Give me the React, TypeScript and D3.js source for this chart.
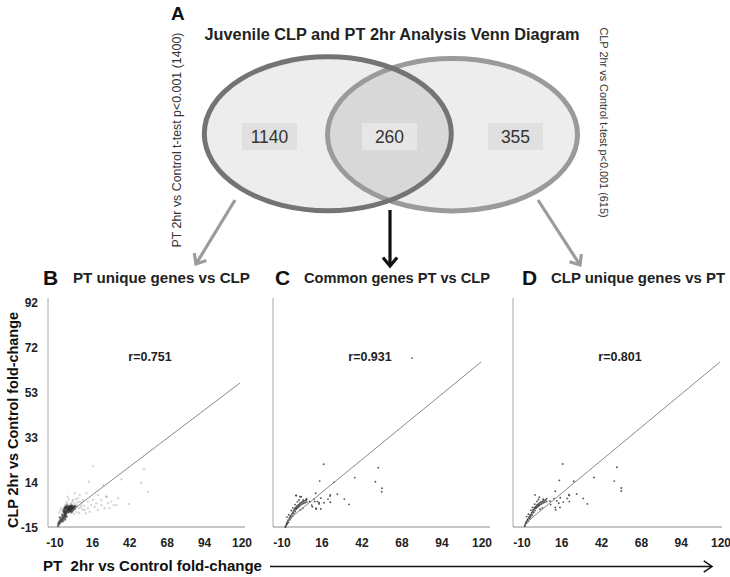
import React from "react";
import * as d3 from "d3";

const FONT = '"Liberation Sans", Arial, Helvetica, sans-serif';

// ---------- data ----------
const vennTitle = "Juvenile CLP and PT 2hr Analysis Venn Diagram";
const vennCounts = [1140, 260, 355];
const leftSetLabel = "PT 2hr vs Control t-test p<0.001 (1400)";
const rightSetLabel = "CLP 2hr vs Control t-test p<0.001 (615)";

const xTicks = [-10, 16, 42, 68, 94, 120];
const yTickLabels = ["-15", "14", "33", "53", "72", "92"];
const yDomain = [-5.5, 92];

const panelLetters = ["B", "C", "D"];
const panelTitles = ["PT unique genes vs CLP", "Common genes PT vs CLP", "CLP unique genes vs PT"];
const rLabels = ["r=0.751", "r=0.931", "r=0.801"];
const xAxisLabel = "PT  2hr vs Control fold-change";
const yAxisLabel = "CLP 2hr vs Control fold-change";

const fitB: [number, number][] = [[3.9, 2.7], [118.6, 56.9]];
const fitC: [number, number][] = [[-6.1, -2.5], [119.4, 66]];
const fitD: [number, number][] = [[-6.7, -3.3], [119.3, 66]];

// Panel B: faint spread of points
const pointsBSpread: [number, number][] = [
  [16.4, 20.9], [51.9, 19.5], [13.6, 14.1], [36.1, 15.2], [50, 13.7], [54.7, 9.8], [23.4, 12.7],
  [41.4, 4.5], [30.8, 4], [26, 7.6],
  [19.9, 8.4], [22.2, 6.2], [25.7, 7.6], [29.1, 5.5], [32.6, 4], [12.9, 5.5], [15.2, 4], [17.6, 3.3],
  [8.3, 4], [10.6, 1.9], [19.9, 1.9], [24.5, 2.6], [6, 7], [2.5, 6.2], [-1, 7.6], [11.8, 9.1],
  [28, 2.6], [33.8, 7], [7.2, 5.5], [4.8, 3.3], [14.1, 1.1], [16.4, 6.2], [18.7, 4.8], [9.5, 6.2],
  [7.2, 8.4], [3.7, 9.1], [1.3, 4.8], [22.2, 4], [12.9, 2.6], [26.8, 4.8],
  [-2.0, 5.2], [-0.4, 6.4], [0.8, 4.4], [-1.6, 4.6], [2.2, 5.6], [3.6, 4.6], [5.2, 3.8], [6.4, 2.6],
  [5.6, 5.2], [4.4, 6.6], [7.8, 3.2], [9.0, 2.2], [10.4, 3.6], [8.6, 5.0], [-3.0, 4.0],
  [5.0, 1.0], [6.8, 0.6], [3.2, 0.2], [11.4, 0.4], [-6.2, 1.8], [-5.4, 2.6], [-7.0, 0.8],
];

// Panel B: dense dark core near the origin
const pointsBCore: [number, number][] = [
  [-4.2, 1.2], [-3.8, 2.0], [-3.4, 1.5], [-3.0, 2.6], [-2.6, 1.0], [-2.2, 2.2], [-1.8, 3.0], [-1.4, 1.6],
  [-1.0, 2.6], [-0.6, 3.4], [-0.2, 1.9], [0.2, 2.8], [0.6, 3.6], [1.0, 2.2], [1.4, 3.1], [1.8, 2.5],
  [2.2, 3.4], [2.6, 2.0], [3.0, 2.9], [3.4, 3.6], [3.8, 2.4], [4.2, 3.2], [-3.6, 0.6], [-2.8, 0.4],
  [-2.0, 1.4], [-1.2, 0.8], [-0.4, 1.1], [0.4, 1.5], [1.2, 0.9], [2.0, 1.3], [-2.4, 3.2], [-1.6, 3.8],
  [-0.8, 2.0], [0.0, 2.4], [0.8, 1.8], [1.6, 3.8], [2.4, 2.7], [-3.2, 2.9], [-0.2, 3.0], [1.0, 3.2],
  [-7.6, -4.2], [-7.2, -3.4], [-6.8, -4.0], [-6.4, -2.6], [-6.0, -3.2], [-5.6, -1.8], [-5.2, -2.6],
  [-4.8, -1.2], [-4.4, -2.0], [-4.0, -0.6], [-3.6, -1.4], [-3.2, -0.2], [-2.8, -0.9], [-2.4, 0.1],
  [-7.8, -5.0], [-6.6, -1.4], [-5.0, -0.2], [-3.0, -2.2], [-4.6, -3.0], [-2.0, -1.0],
];

const pointsC: [number, number][] = [
  [74.5, 67.7], [17.1, 21.7], [52.6, 20.2], [14.5, 14.4], [23.8, 13.9], [37.3, 15.9], [50.7, 14.1],
  [55, 11.3], [54.8, 9.8], [21.4, 8.4], [26, 8.7], [30.5, 6.6], [33.6, 4.3], [21.4, 5.2], [11.9, 9.1],
  [15.2, 7], [-0.7, 8.1], [2.5, 7.6], [5.8, 6.5], [8, 5.5], [11.3, 5.5], [14.1, 5], [9.7, 3.3],
  [12.3, 2.3], [15.2, 2.3],
  [-0.9, 8.2], [1.7, 7.6], [3.8, 6.2], [6.1, 6.6], [8.2, 5.5], [10.8, 6.5], [13, 5.5], [14.1, 4.5],
  [9.3, 4], [12.1, 2.6], [17.3, 5], [19.9, 6.6], [21.2, 7.9],
  [-7.6, -5.1], [-7.2, -4.6], [-7.0, -3.8], [-6.6, -4.2], [-6.4, -3.2], [-6.0, -2.6], [-5.8, -3.5],
  [-5.4, -2.0], [-5.0, -1.4], [-4.8, -2.4], [-4.5, -0.8], [-4.2, -1.6], [-3.8, -0.4], [-3.5, 0.2],
  [-3.2, -0.9], [-2.9, 0.8], [-2.6, 1.5], [-2.3, 0.4], [-2.0, 1.9], [-1.7, 2.6], [-1.4, 1.2],
  [-1.1, 2.2], [-0.8, 3.1], [-0.5, 2.4], [-0.2, 3.6], [0.2, 2.9], [0.5, 4.0], [0.8, 3.3], [1.2, 4.4],
  [1.5, 3.7], [1.9, 4.9], [2.3, 4.1], [2.7, 5.2], [3.1, 4.5], [3.6, 5.5], [4.0, 4.8], [4.5, 5.8],
  [5.0, 5.0], [5.6, 6.0], [6.2, 5.3], [-6.8, -1.2], [-5.6, -0.2], [-4.0, 1.6], [-3.0, 2.8],
  [-1.5, 4.2], [0.0, 5.4], [1.0, 6.2], [2.0, 2.0], [3.5, 2.6], [-7.8, -5.6],
];

const pointsD: [number, number][] = [
  [16.6, 21.8], [52, 20.4], [14.4, 14.7], [23.8, 14.3], [37, 16], [50.3, 14.4], [54.9, 11.4],
  [54.9, 10.1], [20.5, 8.5], [25.7, 8.8], [30, 6.9], [32.7, 4.5], [20.9, 5.5], [11.8, 10],
  [-1.5, 8.4], [1.3, 7.4], [3.9, 6.5], [6.1, 6.8], [8.3, 5.8], [10.9, 6.8], [12.7, 5.8], [14, 4.8],
  [8.7, 4.2], [11.7, 3], [14.8, 3], [17, 5.3], [19.6, 6.9], [20.9, 8.2], [15.0, 7.2], [12.0, 2.0],
  [-8.0, -4.6], [-7.6, -4.0], [-7.3, -3.2], [-6.9, -3.7], [-6.6, -2.6], [-6.2, -2.1], [-5.9, -3.0],
  [-5.5, -1.5], [-5.1, -0.9], [-4.9, -1.9], [-4.6, -0.3], [-4.3, -1.1], [-3.9, 0.1], [-3.6, 0.7],
  [-3.3, -0.4], [-3.0, 1.2], [-2.7, 1.9], [-2.4, 0.8], [-2.1, 2.3], [-1.8, 3.0], [-1.5, 1.6],
  [-1.2, 2.6], [-0.9, 3.4], [-0.6, 2.8], [-0.3, 3.9], [0.1, 3.2], [0.4, 4.3], [0.7, 3.6], [1.1, 4.6],
  [1.4, 4.0], [1.8, 5.1], [2.2, 4.3], [2.6, 5.4], [3.0, 4.7], [3.5, 5.7], [3.9, 5.0], [4.4, 6.0],
  [4.9, 5.2], [5.5, 6.2], [6.1, 5.5], [-7.0, -1.0], [-5.8, 0.0], [-4.2, 1.8], [-3.2, 3.0],
  [-1.7, 4.4], [-0.2, 5.6], [0.8, 6.4], [1.8, 2.2], [3.3, 2.8], [-8.2, -5.2],
];

// ---------- helpers ----------
function chevron(x0: number, y0: number, x1: number, y1: number, len: number, ang: number) {
  const a = Math.atan2(y1 - y0, x1 - x0);
  const p1: [number, number] = [x1 - len * Math.cos(a - ang), y1 - len * Math.sin(a - ang)];
  const p2: [number, number] = [x1 - len * Math.cos(a + ang), y1 - len * Math.sin(a + ang)];
  return d3.line()([p1, [x1, y1], p2]) as string;
}

type PanelCfg = {
  axisX: number;
  xr: [number, number];
  xEnd: number;
  letterX: number;
  titleX: number;
  titleLen: number;
  rX: number;
};

const panelCfgs: PanelCfg[] = [
  { axisX: 48, xr: [55, 242], xEnd: 245, letterX: 43, titleX: 73, titleLen: 177, rX: 150 },
  { axisX: 273, xr: [282, 482], xEnd: 490, letterX: 275, titleX: 304, titleLen: 186, rX: 370 },
  { axisX: 513, xr: [522, 721], xEnd: 722, letterX: 522, titleX: 551, titleLen: 174, rX: 620 },
];

const Y0 = 527;
const Y1 = 302;
const YTOP = 298;

type Series = { pts: [number, number][]; r: number; op: number };

function Panel({ i, series, fit, showY }: {
  i: number; series: Series[]; fit: [number, number][]; showY: boolean;
}) {
  const c = panelCfgs[i];
  const x = d3.scaleLinear().domain([xTicks[0], xTicks[xTicks.length - 1]]).range(c.xr);
  const y = d3.scaleLinear().domain(yDomain).range([Y0, Y1]);
  const yPos = d3.scalePoint().domain(yTickLabels).range([Y0, Y1]);
  const line = d3.line<[number, number]>().x((d) => x(d[0])).y((d) => y(d[1]));
  return (
    <g fontFamily={FONT}>
      <text x={c.letterX} y={285} fontSize={21} fontWeight="bold" fill="#111">{panelLetters[i]}</text>
      <text x={c.titleX} y={283} fontSize={15} fontWeight="bold" fill="#222"
        textLength={c.titleLen} lengthAdjust="spacingAndGlyphs">{panelTitles[i]}</text>
      <line x1={c.axisX} x2={c.axisX} y1={YTOP} y2={Y0} stroke="#a8a8a8" strokeWidth={1} />
      <line x1={c.axisX} x2={c.xEnd} y1={Y0} y2={Y0} stroke="#8c8c8c" strokeWidth={1} />
      {showY && yTickLabels.map((t) => (
        <text key={t} x={38} y={yPos(t)! + 4.5} textAnchor="end" fontSize={12} fontWeight="bold" fill="#222">{t}</text>
      ))}
      {xTicks.map((t) => (
        <text key={t} x={x(t)} y={546.5} textAnchor="middle" fontSize={12} fontWeight="bold" fill="#222">{t}</text>
      ))}
      {series.map((s, si) => (
        <g key={si}>
          {s.pts.map((p, k) => (
            <circle key={k} cx={x(p[0])} cy={y(p[1])} r={s.r} fill="#222" fillOpacity={s.op} />
          ))}
        </g>
      ))}
      <path d={line(fit) as string} stroke="#8a8a8a" strokeWidth={1} fill="none" />
      <text x={c.rX} y={361} textAnchor="middle" fontSize={12.5} fontWeight="bold" fill="#222">{rLabels[i]}</text>
    </g>
  );
}

export default function App() {
  const L = { cx: 327.8, cy: 133.8, rx: 123.5, ry: 77 };
  const R = { cx: 452.5, cy: 134.7, rx: 125, ry: 76.2 };
  const boxes = [269.5, 389.5, 515.5];
  const boxFill = ["#e0e0e0", "#e6e6e6", "#e0e0e0"];
  const arrows = [
    { x0: 235, y0: 200, x1: 196, y1: 264, c: "#9c9c9c" },
    { x0: 390, y0: 210, x1: 390, y1: 266, c: "#111" },
    { x0: 538, y0: 200, x1: 580, y1: 265, c: "#9c9c9c" },
  ];
  return (
    <svg width={730} height={577} style={{ position: "absolute", left: 0, top: 0, background: "#fff" }}>
      <rect x={0} y={0} width={730} height={577} fill="#fff" />
      <defs>
        <clipPath id="clipL">
          <ellipse cx={L.cx} cy={L.cy} rx={L.rx} ry={L.ry} />
        </clipPath>
      </defs>
      {/* Venn */}
      <text x={171} y={20} fontFamily={FONT} fontSize={19} fontWeight="bold" fill="#111">A</text>
      <text x={392} y={40} textAnchor="middle" fontFamily={FONT} fontSize={16} fontWeight="bold" fill="#222"
        textLength={375} lengthAdjust="spacingAndGlyphs">{vennTitle}</text>
      <ellipse cx={L.cx} cy={L.cy} rx={L.rx} ry={L.ry} fill="#ededed" />
      <ellipse cx={R.cx} cy={R.cy} rx={R.rx} ry={R.ry} fill="#ededed" />
      <ellipse cx={R.cx} cy={R.cy} rx={R.rx} ry={R.ry} fill="#d8d8d8" clipPath="url(#clipL)" />
      <ellipse cx={R.cx} cy={R.cy} rx={R.rx} ry={R.ry} fill="none" stroke="#9a9a9a" strokeWidth={5} />
      <ellipse cx={L.cx} cy={L.cy} rx={L.rx} ry={L.ry} fill="none" stroke="#747474" strokeWidth={5} />
      {vennCounts.map((v, k) => (
        <g key={k}>
          <rect x={boxes[k] - 27.5} y={123} width={55} height={27} fill={boxFill[k]} />
          <text x={boxes[k]} y={143} textAnchor="middle" fontFamily={FONT} fontSize={17.5} fill="#333">{v}</text>
        </g>
      ))}
      <text transform="translate(177,140) rotate(-90)" textAnchor="middle" dominantBaseline="central"
        fontFamily={FONT} fontSize={12.4} fill="#333">{leftSetLabel}</text>
      <text transform="translate(604,122.5) rotate(90)" textAnchor="middle" dominantBaseline="central"
        fontFamily={FONT} fontSize={10.9} fill="#333">{rightSetLabel}</text>
      {arrows.map((a, k) => (
        <g key={k} stroke={a.c} strokeWidth={3.2} fill="none">
          <line x1={a.x0} y1={a.y0} x2={a.x1} y2={a.y1} />
          <path d={chevron(a.x0, a.y0, a.x1, a.y1, 11, 0.7)} strokeLinejoin="miter" />
        </g>
      ))}
      {/* Panels */}
      <Panel i={0} series={[{ pts: pointsBSpread, r: 1.2, op: 0.18 }, { pts: pointsBCore, r: 1.3, op: 0.6 }]}
        fit={fitB} showY={true} />
      <Panel i={1} series={[{ pts: pointsC, r: 0.95, op: 0.75 }]} fit={fitC} showY={false} />
      <Panel i={2} series={[{ pts: pointsD, r: 0.95, op: 0.75 }]} fit={fitD} showY={false} />
      {/* axis labels */}
      <text transform="translate(12,420) rotate(-90)" textAnchor="middle" dominantBaseline="central"
        fontFamily={FONT} fontSize={15} fontWeight="bold" fill="#111"
        textLength={216} lengthAdjust="spacingAndGlyphs">{yAxisLabel}</text>
      <text x={43} y={571} fontFamily={FONT} fontSize={15} fontWeight="bold" fill="#111"
        textLength={219} lengthAdjust="spacingAndGlyphs" style={{ whiteSpace: "pre" }}>{xAxisLabel}</text>
      <line x1={270} x2={711} y1={566.5} y2={566.5} stroke="#111" strokeWidth={1.5} />
      <path d={chevron(270, 566.5, 712, 566.5, 10, 0.6)} stroke="#111" strokeWidth={1.5} fill="none" />
    </svg>
  );
}
